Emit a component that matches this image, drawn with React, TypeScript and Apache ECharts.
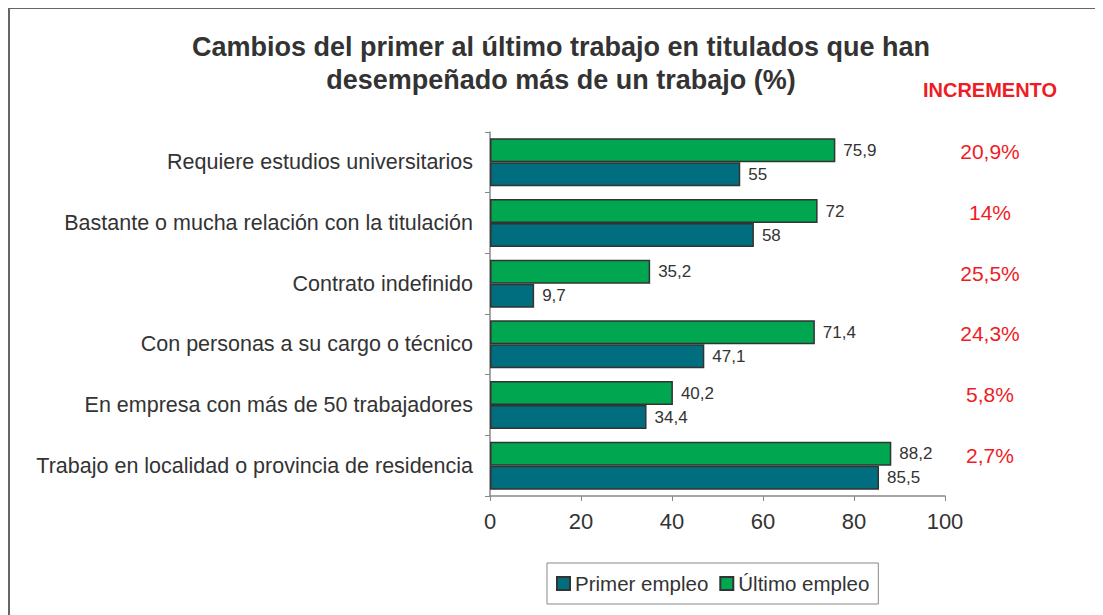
import React, { useEffect, useRef } from "react";
import * as echarts from "echarts";

const categories = [
  "Requiere estudios universitarios",
  "Bastante o mucha relación con la titulación",
  "Contrato indefinido",
  "Con personas a su cargo o técnico",
  "En empresa con más de 50 trabajadores",
  "Trabajo en localidad o provincia de residencia",
];
const primerEmpleo = [55, 58, 9.7, 47.1, 34.4, 85.5];
const ultimoEmpleo = [75.9, 72, 35.2, 71.4, 40.2, 88.2];
const incrementos = ["20,9%", "14%", "25,5%", "24,3%", "5,8%", "2,7%"];
const xTicks = { min: 0, max: 100, interval: 20 };

const fmt = (v: number) => String(v).replace(".", ",");

export default function App() {
  const ref = useRef<HTMLDivElement>(null);
  useEffect(() => {
    if (!ref.current) return;
    const chart = echarts.init(ref.current, undefined, { renderer: "svg" });
    const font = "Liberation Sans, Arial, sans-serif";
    const labelStyle = {
      show: true,
      position: "right" as const,
      distance: 8,
      fontSize: 17,
      fontFamily: font,
      color: "#333",
      formatter: (p: any) => fmt(p.value),
    };
    chart.setOption({
      animation: false,
      backgroundColor: "#fff",
      textStyle: { fontFamily: font },
      title: {
        text: "Cambios del primer al último trabajo en titulados que han\ndesempeñado más de un trabajo (%)",
        left: 548,
        top: 17,
        textAlign: "center",
        textStyle: {
          fontSize: 27,
          fontWeight: "bold",
          lineHeight: 33,
          color: "#333",
          fontFamily: font,
        },
      },
      graphic: [
        {
          type: "polyline",
          shape: { points: [[1, 700], [1, 0], [1200, 0]] },
          style: { stroke: "#666", lineWidth: 2, fill: "none" },
        },
        {
          type: "text",
          x: 982,
          y: 82,
          style: {
            text: "INCREMENTO",
            fill: "#EE1C25",
            font: "bold 20px Liberation Sans, Arial, sans-serif",
            align: "center",
            verticalAlign: "middle",
          },
        },
      ],
      legend: {
        data: ["Primer empleo", "Último empleo"],
        left: 539,
        top: 555,
        orient: "horizontal",
        borderColor: "#888",
        borderWidth: 1,
        padding: [10, 9, 10, 9],
        itemWidth: 13,
        itemHeight: 13,
        itemGap: 11,
        icon: "rect",
        textStyle: { fontSize: 20.5, color: "#333", fontFamily: font },
      },
      grid: { left: 482, right: 158, top: 124, bottom: 119 },
      xAxis: {
        type: "value",
        min: xTicks.min,
        max: xTicks.max,
        interval: xTicks.interval,
        axisLine: { show: true, lineStyle: { color: "#888", width: 1.5 } },
        axisTick: { show: true, length: 5, lineStyle: { color: "#888" } },
        splitLine: { show: false },
        axisLabel: { fontSize: 22, color: "#333", margin: 14, fontFamily: font },
      },
      yAxis: [
        {
          type: "category",
          data: categories,
          inverse: true,
          axisLine: { show: true, lineStyle: { color: "#888", width: 1.5 } },
          axisTick: { show: true, length: 5, lineStyle: { color: "#888" } },
          axisLabel: { fontSize: 21.5, color: "#333", margin: 17, fontFamily: font },
        },
        {
          type: "category",
          data: incrementos,
          inverse: true,
          position: "right",
          axisLine: { show: false },
          axisTick: { show: false },
          axisLabel: {
            fontSize: 21,
            color: "#EE1C25",
            margin: 45,
            align: "center",
            verticalAlign: "bottom",
            fontFamily: font,
          },
        },
      ],
      series: [
        {
          name: "Último empleo",
          type: "bar",
          data: ultimoEmpleo,
          barWidth: 24,
          barGap: "0%",
          itemStyle: { color: "#00A650", borderColor: "#333", borderWidth: 1.5 },
          label: labelStyle,
        },
        {
          name: "Primer empleo",
          type: "bar",
          data: primerEmpleo,
          barWidth: 24,
          barGap: "0%",
          itemStyle: { color: "#006E7E", borderColor: "#333", borderWidth: 1.5 },
          label: labelStyle,
        },
      ],
    });
    return () => chart.dispose();
  }, []);
  return <div ref={ref} style={{ width: 1095, height: 607 }} />;
}
